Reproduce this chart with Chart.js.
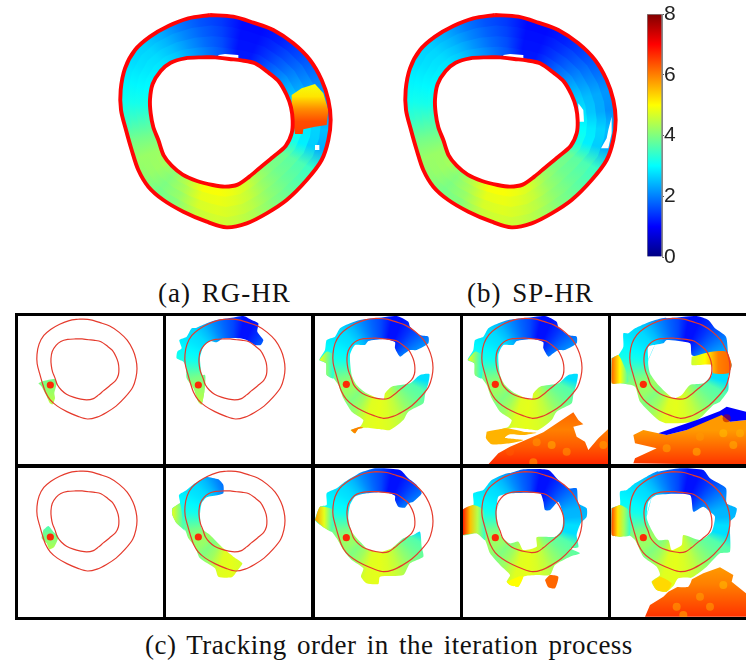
<!DOCTYPE html>
<html>
<head>
<meta charset="utf-8">
<script src="https://cdn.jsdelivr.net/npm/chart.js@4"></script>
<style>
  html, body { margin: 0; background: #fff; overflow: hidden; }
  canvas { position: absolute; }
  .frame { position: absolute; left: 15px; top: 313px; width: 731px; height: 307px; background: #000; }
  .cap { position: absolute; font-family: "Liberation Serif", serif; color: #111; white-space: pre; line-height: 1; font-size: 27px; }
</style>
</head>
<body>
<div class="frame"></div>
<div class="cap" style="left:158px;top:280px;letter-spacing:1px;word-spacing:3px">(a) RG-HR</div>
<div class="cap" style="left:467px;top:280px;letter-spacing:1px;word-spacing:3px">(b) SP-HR</div>
<div class="cap" style="left:145px;top:632px;letter-spacing:.5px;word-spacing:3px">(c) Tracking order in the iteration process</div>
<script>
(() => {
  'use strict'

  // colorbar
  const colorbarRange = [0, 8]
  const colorbarTicks = [0, 2, 4, 6, 8]
  const jetStops = [0, 1, 3, 5, 7, 8]

  // ring contours, paired point by point
  const ringCenter = [340, 335]
  const outerContour = [[300,15],[370,20],[430,38],[490,60],[550,100],[600,150],[635,210],[655,270],[662,330],[655,390],[635,450],[590,510],[530,570],[470,610],[410,640],[350,652],[290,635],[220,605],[160,570],[115,530],[85,480],[65,420],[48,360],[33,300],[32,240],[45,175],[75,120],[120,80],[175,48],[235,25]]
  const innerContour = [[316,142],[358,147],[395,151],[435,160],[478,190],[507,215],[530,255],[543,292],[548,332],[545,370],[527,408],[490,440],[450,473],[418,500],[383,524],[345,530],[308,525],[261,513],[218,494],[185,467],[161,436],[145,390],[130,352],[122,310],[120,268],[128,222],[152,183],[182,158],[225,145],[275,142]]

  // values around the ring, one per sector, at the outer and the inner edge
  const heatOuter = [1.4,1.05,1.05,1.2,1.5,1.8,2.1,2.0,2.4,2.2,3.4,3.7,4.0,4.3,4.5,4.6,4.5,4.0,3.9,4.1,4.2,3.9,3.4,3.1,2.9,2.7,2.6,2.3,1.9,1.6]
  const heatInner = [1.7,1.2,1.2,1.6,2.0,2.4,2.7,2.9,3.1,3.3,3.9,4.0,4.3,4.7,4.9,5.0,5.0,4.5,4.1,4.3,4.2,3.9,3.6,3.2,3.0,2.9,2.8,2.6,2.3,2.0]

  // big panels
  const specksBoth = [[325,135],[345,132],[385,135],[385,146],[325,143]]
  const specksA = [[615,405],[628,405],[628,420],[615,420]]
  const specksB1 = [[550,280],[565,300],[567,335],[550,335]]
  const specksB2 = [[650,320],[640,360],[635,385],[618,415],[640,415],[650,370]]
  const hotPatchA = [[545,255],[575,235],[615,222],[640,250],[655,300],[650,345],[615,350],[580,358],[578,372],[555,372],[550,340],[545,290]]
  const hotValuesA = [4.9, 5.2, 5.9, 6.4, 6.5]

  // small panels, outlines
  const seedPoint = [120, 240]
  const blob1 = [[85,235],[100,228],[135,222],[140,235],[133,265],[135,280],[128,298],[120,295],[108,270],[95,245]]
  const blob1Values = [3.9, 4.5]

  const outline2 = [[655,40],[700,33],[725,45],[745,55],[742,80],[760,105],[752,120],[735,120],[710,105],[690,100],[640,100],[620,112],[600,108],[580,125],[570,160],[575,205],[585,230],[583,260],[575,298],[565,290],[550,250],[530,220],[528,185],[520,170],[500,160],[502,140],[515,130],[508,105],[530,95],[545,70],[560,68],[590,55],[620,45]]
  const patch2 = [[548,225],[585,210],[583,260],[575,298],[565,290]]
  const patch2Values = [3.9, 4.5]

  const outline3 = [[190,40],[260,33],[295,50],[300,65],[330,90],[355,95],[355,115],[320,135],[300,135],[285,145],[270,155],[255,130],[255,112],[225,102],[175,108],[165,120],[135,120],[120,150],[125,210],[140,240],[170,265],[220,285],[225,265],[245,245],[300,235],[330,210],[358,207],[355,235],[345,270],[340,295],[295,320],[280,345],[240,375],[205,372],[165,368],[145,372],[135,385],[122,375],[150,365],[160,345],[125,320],[100,280],[85,240],[70,220],[50,210],[48,175],[28,165],[45,135],[50,105],[75,95],[90,70],[120,55],[150,45]]
  const left3 = [[28,165],[50,140],[70,150],[70,220],[50,210],[48,175]]
  const left3Values = [5.0, 3.3]
  const tail3 = [[122,375],[150,365],[160,368],[145,372],[135,385]]

  const strip4 = [[530,380],[590,370],[640,380],[680,383],[640,390],[600,388],[585,398],[640,405],[600,415],[545,418],[528,400]]
  const big4 = [[535,478],[565,445],[600,425],[640,408],[700,382],[790,322],[805,345],[820,358],[790,365],[800,395],[825,410],[835,435],[865,400],[895,372],[895,478]]
  const big4Values = [6.2, 6.0, 6.3, 6.7]
  const spots4 = [[725,420,5.6],[670,472,5.7],[680,412,5.8],[770,440,5.8],[880,420,5.7],[600,440,6.3]]

  const outline5 = [[200,40],[290,33],[325,45],[345,70],[378,95],[385,150],[395,180],[385,215],[385,255],[360,290],[340,300],[305,335],[280,350],[200,355],[175,345],[120,290],[105,245],[60,235],[35,235],[35,160],[55,150],[70,125],[70,85],[85,85],[105,70],[150,50]]
  const hole5 = [[145,125],[190,115],[200,105],[270,115],[275,150],[300,155],[330,145],[340,175],[335,210],[310,235],[270,240],[245,270],[220,280],[175,240],[150,205],[145,165]]
  const right5 = [[275,155],[335,140],[380,140],[395,180],[385,205],[340,205],[335,180],[295,180],[275,180]]
  const right5Values = [4.6, 5.0, 6.0, 6.2]
  const left5 = [[35,160],[55,150],[75,190],[85,230],[60,235],[35,235]]
  const left5Values = [6.2, 5.0, 3.6]
  const band5 = [[175,385],[230,365],[290,345],[360,318],[380,305],[438,320],[438,345],[390,350],[365,330],[260,375],[200,390]]
  const big5 = [[100,475],[105,460],[170,430],[105,415],[100,390],[130,375],[175,385],[200,390],[260,375],[360,325],[390,350],[438,345],[438,480]]
  const big5Values = [5.8, 5.8, 6.2, 6.6]
  const spots5 = [[370,385,5.5],[420,385,5.6],[300,395,5.8],[200,430,5.7],[290,440,5.6],[400,420,5.6],[380,340,7.6]]

  const blob6 = [[100,210],[115,198],[130,215],[145,230],[132,262],[118,268],[110,250],[95,235]]
  const blob6Values = [3.6, 4.4]

  const outline7 = [[590,50],[625,58],[640,75],[640,100],[625,105],[590,112],[575,130],[570,165],[575,205],[600,225],[640,265],[670,290],[697,310],[680,335],[665,352],[625,350],[615,325],[570,295],[555,260],[535,235],[525,210],[500,190],[487,165],[487,145],[510,130],[507,105],[530,90],[555,70]]
  const left7 = [[487,145],[510,130],[520,200],[525,212],[500,190],[487,165]]
  const left7Values = [4.8, 3.4]

  const outline8 = [[150,38],[195,25],[270,30],[295,55],[320,75],[335,100],[310,125],[295,130],[285,143],[265,140],[255,120],[255,107],[225,97],[170,100],[135,110],[120,135],[115,175],[125,215],[155,250],[175,270],[215,275],[245,265],[280,235],[310,225],[330,215],[335,260],[340,290],[300,310],[280,345],[210,350],[205,372],[170,370],[153,350],[160,325],[125,300],[100,270],[80,235],[65,215],[45,205],[15,180],[30,140],[50,135],[50,100],[80,85],[105,65]]
  const left8 = [[15,180],[30,140],[70,150],[65,215],[45,205]]
  const left8Values = [5.8, 4.8, 3.4]

  const outline9 = [[600,40],[640,28],[715,30],[745,60],[775,85],[800,85],[805,130],[830,145],[830,170],[812,190],[800,225],[805,262],[780,265],[810,280],[780,290],[735,315],[720,345],[680,345],[640,350],[625,380],[600,375],[590,365],[600,345],[570,315],[540,280],[525,240],[500,220],[458,225],[458,150],[490,135],[490,100],[520,90],[545,60]]
  const hole9 = [[565,110],[600,100],[690,100],[700,125],[705,150],[720,150],[745,125],[760,170],[755,210],[735,230],[680,232],[680,260],[640,270],[625,245],[600,250],[575,230],[565,200],[560,150]]
  const left9 = [[458,225],[458,150],[490,135],[520,150],[525,240],[500,220]]
  const left9Values = [6.8, 5.5, 4.4, 3.4]
  const drop9 = [[705,360],[720,345],[745,350],[735,385],[715,382]]
  const tail9 = [[590,365],[625,350],[640,350],[625,380],[600,375]]

  const outline10 = [[175,35],[240,25],[310,30],[330,55],[378,85],[380,130],[410,145],[405,170],[390,185],[390,275],[360,280],[320,320],[280,350],[230,370],[200,395],[170,390],[155,365],[180,345],[170,320],[130,290],[105,240],[85,225],[60,230],[35,225],[35,145],[60,135],[60,95],[80,90],[105,70],[140,50]]
  const hole10 = [[145,125],[170,105],[270,105],[280,155],[310,140],[330,155],[345,170],[335,215],[300,240],[250,225],[245,255],[215,270],[205,240],[175,240],[155,210],[140,170]]
  const left10 = [[35,145],[60,135],[85,150],[90,225],[60,230],[35,225]]
  const left10Values = [6.4, 5.2, 4.3, 3.4]
  const big10 = [[135,470],[150,435],[190,410],[205,395],[290,350],[310,340],[360,322],[400,345],[395,365],[438,400],[438,470]]
  const big10Values = [5.8, 6.0, 6.3, 6.6]
  const slot10 = [[220,380],[235,355],[275,355],[265,380]]
  const tail10 = [[155,365],[180,350],[215,370],[200,395],[170,390]]
  const spots10 = [[370,375,5.5],[300,410,5.7],[230,440,5.7],[330,440,5.7],[250,465,5.6]]

  const TAU = Math.PI * 2
  const clamp = v => Math.max(0, Math.min(1, v))
  const jet = v => {
    const t = v / 8
    const c = k => Math.round(255 * clamp(1.5 - Math.abs(4 * t - k)))
    return `rgb(${c(3)},${c(2)},${c(1)})`
  }
  const xy = pts => pts.map(p => ({ x: p[0], y: p[1] }))
  const closed = pts => pts.concat([pts[0]])
  const withHole = (outer, hole) => closed(outer).concat(closed(hole.slice().reverse()))
  const blend = (a, b, f) => a.map((p, i) => [p[0] + (b[i][0] - p[0]) * f, p[1] + (b[i][1] - p[1]) * f])
  const band = (a, b) => closed(a).concat(closed(b.slice().reverse()))

  // fill around the ring centre, each sector value at the middle of its sector
  const conicFill = (center, contour, values) => ctx => {
    const chart = ctx.chart
    if (!chart.chartArea) return 'transparent'
    const px = p => [chart.scales.x.getPixelForValue(p[0]), chart.scales.y.getPixelForValue(p[1])]
    const c = px(center)
    const angles = contour.map((p, i) => {
      const q = contour[(i + 1) % contour.length]
      const m = px([(p[0] + q[0]) / 2, (p[1] + q[1]) / 2])
      return Math.atan2(m[1] - c[1], m[0] - c[0])
    })
    const g = chart.ctx.createConicGradient(angles[0], c[0], c[1])
    values.forEach((v, i) => {
      g.addColorStop((((angles[i] - angles[0]) % TAU) + TAU) % TAU / TAU, jet(v))
    })
    g.addColorStop(1, jet(values[0]))
    return g
  }

  // fill across a patch from left to right or top to bottom
  const linearFill = (pts, values, dir) => ctx => {
    const chart = ctx.chart
    if (!chart.chartArea) return 'transparent'
    const scale = chart.scales[dir]
    const vals = pts.map(p => scale.getPixelForValue(dir === 'x' ? p[0] : p[1]))
    const a = Math.min(...vals)
    const b = Math.max(...vals)
    const g = dir === 'x' ? chart.ctx.createLinearGradient(a, 0, b, 0) : chart.ctx.createLinearGradient(0, a, 0, b)
    values.forEach((v, i) => g.addColorStop(i / (values.length - 1), jet(v)))
    return g
  }

  const shape = (pts, color, tension = 0) => ({
    data: xy(pts), showLine: true, fill: 'shape', borderWidth: 0, pointRadius: 0, tension, backgroundColor: color
  })
  const blob = (pts, color) => shape(closed(pts), color, 0.2)
  const contourLine = (pts, color, width) => ({
    data: xy(closed(pts)), showLine: true, fill: false, borderColor: color, borderWidth: width, pointRadius: 0, tension: 0.3
  })
  const spots = pts => ({
    data: xy(pts),
    pointRadius: 4,
    pointBorderWidth: 0,
    pointBackgroundColor: pts.map(p => jet(p[2]).replace('rgb', 'rgba').replace(')', ',0.55)'))
  })

  const draw = (left, top, width, height, xRange, yRange, layers) => {
    const canvas = document.createElement('canvas')
    canvas.width = width
    canvas.height = height
    canvas.style.cssText = `left:${left}px;top:${top}px;width:${width}px;height:${height}px;background:#fff`
    document.body.appendChild(canvas)
    return new Chart(canvas, {
      type: 'scatter',
      // first dataset is painted last
      data: { datasets: layers.slice().reverse() },
      options: {
        responsive: false,
        animation: false,
        events: [],
        layout: { padding: 0, autoPadding: false },
        plugins: { legend: { display: false }, tooltip: { enabled: false }, title: { display: false } },
        scales: {
          x: { display: false, min: xRange[0], max: xRange[1] },
          y: { display: false, min: yRange[0], max: yRange[1], reverse: true }
        }
      }
    })
  }

  // big rings, each layer runs on to the inner contour so no seams show
  const bigRing = extras => {
    const layers = [0, 0.25, 0.5, 0.75].map(f => shape(
      band(blend(outerContour, innerContour, f), innerContour),
      conicFill(ringCenter, outerContour, heatOuter.map((v, i) => v + (heatInner[i] - v) * (f + 0.125)))
    ))
    return layers.concat(extras, [
      contourLine(outerContour, '#ff0505', 3.9),
      contourLine(innerContour, '#ff0505', 3.9)
    ])
  }
  draw(110, 10, 230, 260, [0, 690], [780, 0], bigRing([
    shape(closed(hotPatchA), linearFill(hotPatchA, hotValuesA, 'y')),
    shape(closed(specksBoth), '#fff'),
    shape(closed(specksA), '#fff')
  ]))
  draw(395, 10, 230, 260, [0, 690], [780, 0], bigRing([
    shape(closed(specksBoth), '#fff'),
    shape(closed(specksB1), '#fff'),
    shape(closed(specksB2), '#fff')
  ]))

  // small panels
  const meanHeat = heatOuter.map((v, i) => (v + heatInner[i]) / 2)
  const rows = [[316, 148], [468, 149]]
  const cols = [[18, 145, 10, 37], [166, 145, 10, 185], [315, 145, 310, 333], [463, 145, 310, 482], [611, 135, 600, 630]]
  const ringTop = [[319, 319, 318.3, 318.3, 318.3], [471, 471, 471.7, 471.7, 471.7]]
  const cropTop = [305, 460]

  const smallPanel = (row, col, layers) => {
    const [left, width, cropLeft, ringLeft] = cols[col]
    const [top, height] = rows[row]
    const zx = px => (px - cropLeft) * 3
    const zy = px => (px - cropTop[row]) * 3
    const toPanel = p => [
      zx(ringLeft + (p[0] - 32) / 6.3),
      zy(ringTop[row][col] + (p[1] - 15) / 6.37)
    ]
    const ring = conicFill(toPanel(ringCenter), outerContour.map(toPanel), meanHeat)
    const seed = {
      data: xy([[zx(ringLeft + (seedPoint[0] - 80) / 3), zy(ringTop[row][col] + (seedPoint[1] - 42) / 3)]]),
      pointRadius: 3.6,
      pointBorderWidth: 0,
      pointBackgroundColor: '#fb2a06'
    }
    return draw(left, top, width, height, [zx(left), zx(left + width)], [zy(top + height), zy(top)], layers(ring).concat([
      contourLine(outerContour.map(toPanel), '#e53a2c', 1.2),
      contourLine(innerContour.map(toPanel), '#e53a2c', 1.2),
      seed
    ]))
  }
  const shifted = (pts, dx, dy) => pts.map(p => [p[0] + dx, p[1] + dy])

  smallPanel(0, 0, () => [blob(blob1, linearFill(blob1, blob1Values, 'y'))])
  smallPanel(0, 1, ring => [
    blob(outline2, ring),
    blob(patch2, linearFill(patch2, patch2Values, 'y'))
  ])
  smallPanel(0, 2, ring => [
    blob(outline3, ring),
    blob(left3, linearFill(left3, left3Values, 'x')),
    blob(tail3, jet(6))
  ])
  const outline4 = shifted(outline3, 445, 0)
  const left4 = shifted(left3, 445, 0)
  smallPanel(0, 3, ring => [
    blob(outline4, ring),
    blob(left4, linearFill(left4, left3Values, 'x')),
    blob(strip4, jet(5.6)),
    shape(closed(big4), linearFill(big4, big4Values, 'y')),
    spots(spots4)
  ])
  smallPanel(0, 4, ring => [
    shape(withHole(outline5, hole5), ring, 0.2),
    blob(right5, linearFill(right5, right5Values, 'x')),
    blob(left5, linearFill(left5, left5Values, 'x')),
    shape(closed(big5), linearFill(big5, big5Values, 'y')),
    shape(closed(band5), jet(1.0)),
    spots(spots5)
  ])
  smallPanel(1, 0, () => [blob(blob6, linearFill(blob6, blob6Values, 'y'))])
  smallPanel(1, 1, ring => [
    blob(outline7, ring),
    blob(left7, linearFill(left7, left7Values, 'x'))
  ])
  smallPanel(1, 2, ring => [
    blob(outline8, ring),
    blob(left8, linearFill(left8, left8Values, 'x'))
  ])
  smallPanel(1, 3, ring => [
    shape(withHole(outline9, hole9), ring, 0.2),
    blob(left9, linearFill(left9, left9Values, 'x')),
    blob(drop9, jet(6.2)),
    blob(tail9, jet(5))
  ])
  smallPanel(1, 4, ring => [
    shape(withHole(outline10, hole10), ring, 0.2),
    blob(left10, linearFill(left10, left10Values, 'x')),
    shape(closed(big10), linearFill(big10, big10Values, 'y')),
    blob(tail10, jet(5.3)),
    blob(slot10, '#fff'),
    spots(spots10)
  ])

  // colorbar
  const barCanvas = document.createElement('canvas')
  barCanvas.width = 70
  barCanvas.height = 272
  barCanvas.style.cssText = 'left:640px;top:0;width:70px;height:272px'
  document.body.appendChild(barCanvas)
  new Chart(barCanvas, {
    type: 'bar',
    data: {
      labels: [''],
      datasets: [{
        data: [colorbarRange],
        barPercentage: 1,
        categoryPercentage: 1,
        borderWidth: 1,
        borderColor: '#888',
        backgroundColor: ctx => {
          const chart = ctx.chart
          if (!chart.chartArea) return 'transparent'
          const { top, bottom } = chart.chartArea
          const g = chart.ctx.createLinearGradient(0, bottom, 0, top)
          jetStops.forEach(v => g.addColorStop(v / 8, jet(v)))
          return g
        }
      }]
    },
    options: {
      responsive: false,
      animation: false,
      events: [],
      layout: { padding: { left: 7, top: 14, bottom: 15 } },
      plugins: { legend: { display: false }, tooltip: { enabled: false } },
      scales: {
        x: { display: false },
        y: {
          position: 'right',
          min: colorbarRange[0],
          max: colorbarRange[1],
          afterBuildTicks: s => { s.ticks = colorbarTicks.map(value => ({ value })) },
          afterFit: s => { s.width = 48 },
          grid: { drawOnChartArea: false, drawTicks: true, tickLength: 2, color: '#555' },
          border: { color: '#888' },
          ticks: { padding: 0, color: '#222', font: { family: '"Liberation Sans", sans-serif', size: 21 } }
        }
      }
    }
  })
})()
</script>
</body>
</html>
